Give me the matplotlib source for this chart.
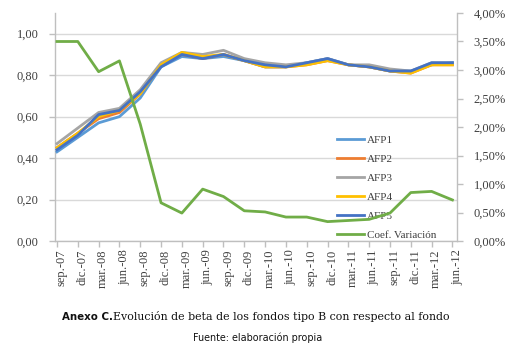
import matplotlib
matplotlib.use("Agg")
import matplotlib.pyplot as plt
from matplotlib.ticker import FuncFormatter, FixedLocator
import numpy as np

categories = ["sep.-07", "dic.-07", "mar.-08", "jun.-08", "sep.-08", "dic.-08", "mar.-09",
              "jun.-09", "sep.-09", "dic.-09", "mar.-10", "jun.-10", "sep.-10", "dic.-10",
              "mar.-11", "jun.-11", "sep.-11", "dic.-11", "mar.-12", "jun.-12"]
afp1 = [0.43, 0.50, 0.57, 0.60, 0.69, 0.84, 0.89, 0.88, 0.89, 0.87, 0.84, 0.84, 0.86, 0.88, 0.85, 0.84, 0.82, 0.82, 0.85, 0.86]
afp2 = [0.45, 0.52, 0.59, 0.62, 0.71, 0.85, 0.90, 0.88, 0.90, 0.87, 0.84, 0.84, 0.85, 0.87, 0.85, 0.84, 0.82, 0.81, 0.85, 0.85]
afp3 = [0.47, 0.545, 0.62, 0.64, 0.73, 0.86, 0.91, 0.90, 0.92, 0.88, 0.86, 0.85, 0.86, 0.88, 0.85, 0.85, 0.83, 0.82, 0.86, 0.86]
afp4 = [0.45, 0.52, 0.60, 0.63, 0.71, 0.85, 0.91, 0.89, 0.90, 0.87, 0.84, 0.84, 0.85, 0.87, 0.85, 0.84, 0.82, 0.81, 0.85, 0.85]
afp5 = [0.44, 0.51, 0.61, 0.63, 0.72, 0.84, 0.90, 0.88, 0.90, 0.87, 0.85, 0.84, 0.86, 0.88, 0.85, 0.84, 0.82, 0.82, 0.86, 0.86]
coef = [0.0350, 0.0350, 0.0297, 0.0316, 0.0205, 0.0067, 0.0049, 0.0091, 0.0078, 0.0053,
        0.0051, 0.0042, 0.0042, 0.0034, 0.0036, 0.0038, 0.0049, 0.0085, 0.0087, 0.0072]
series_names = ["AFP1", "AFP2", "AFP3", "AFP4", "AFP5"]
coef_name = "Coef. Variación"
caption_bold = "Anexo C."
caption_rest = "Evolución de beta de los fondos tipo B con respecto al fondo"
source = "Fuente: elaboración propia"

colors = ["#5B9BD5", "#ED7D31", "#A5A5A5", "#FFC000", "#4472C4"]
green = "#70AD47"
axis_gray = "#BFBFBF"
grid_gray = "#D9D9D9"
serif = "Liberation Serif"

W, H = 525, 344
fig = plt.figure(figsize=(W / 100, H / 100), dpi=100)
L, R, T, B = 55, 457, 13, 241
ax = fig.add_axes([L / W, 1 - B / H, (R - L) / W, (B - T) / H])
ax2 = ax.twinx()

x = np.arange(len(categories))
lw = 2.0
lines = []
for vals, c, n in zip([afp1, afp2, afp3, afp4, afp5], colors, series_names):
    ln, = ax.plot(x, vals, color=c, lw=lw, label=n, zorder=3)
    lines.append(ln)
lc, = ax2.plot(x, coef, color=green, lw=lw, label=coef_name, zorder=3)

px = (R - L) / (19 + 0.19)
ax.set_xlim(-2 / px, 19 + 2 / px)
ax.set_ylim(0, 1.1)
ax2.set_ylim(0, 0.04)

ax.yaxis.set_major_locator(FixedLocator(np.arange(0, 1.01, 0.2)))
ax.yaxis.set_major_formatter(FuncFormatter(lambda v, p: f"{v:.2f}".replace(".", ",")))
ax2.yaxis.set_major_locator(FixedLocator(np.arange(0, 0.0401, 0.005)))
ax2.yaxis.set_major_formatter(FuncFormatter(lambda v, p: f"{v*100:.2f}%".replace(".", ",")))

ax.grid(axis="y", color=grid_gray, lw=1.0, zorder=0)
ax.set_axisbelow(True)

ax.set_xticks(x, minor=True)
ax.set_xticks(x + 0.22)
ax.set_xticklabels(categories, rotation=90, fontfamily=serif, fontsize=9, color="#404040")
ax.tick_params(axis="x", which="major", length=0, pad=6)
ax.tick_params(axis="x", which="minor", length=4, color=axis_gray, width=1)

ax.tick_params(axis="y", length=4, color=axis_gray, width=1, pad=8, labelsize=9, labelcolor="#404040")
ax2.tick_params(axis="y", length=4, color=axis_gray, width=1, pad=8, labelsize=9, labelcolor="#404040")
for lab in ax.get_yticklabels() + ax2.get_yticklabels():
    lab.set_fontfamily(serif)

for a in (ax, ax2):
    a.spines["top"].set_visible(False)
    for s in ("left", "right", "bottom"):
        a.spines[s].set_color(axis_gray)
        a.spines[s].set_linewidth(1.0)
ax.spines["right"].set_visible(False)
ax2.spines["left"].set_visible(False)
ax2.spines["bottom"].set_visible(False)

leg = ax.legend(lines + [lc], series_names + [coef_name], loc="upper left",
                bbox_to_anchor=(337 / W, 1 - 135.5 / H), bbox_transform=fig.transFigure,
                frameon=False, borderpad=0, borderaxespad=0, handlelength=2.4,
                handletextpad=0.3, labelspacing=0.83,
                prop={"family": serif, "size": 8})
for t in leg.get_texts():
    t.set_color("#404040")
leg.set_zorder(2)

fig.text(62 / W, 1 - 317 / H, caption_bold, fontsize=7.4, fontweight="bold",
         fontfamily="DejaVu Sans", ha="left", va="center", color="#111111")
fig.text(113 / W, 1 - 317 / H, caption_rest, fontsize=7.95, fontfamily="DejaVu Serif",
         ha="left", va="center", color="#111111")
fig.text(258 / W, 1 - 338 / H, source, fontsize=6.9, fontfamily="DejaVu Sans",
         ha="center", va="center", color="#111111")

fig.savefig("out.png", dpi=100)
